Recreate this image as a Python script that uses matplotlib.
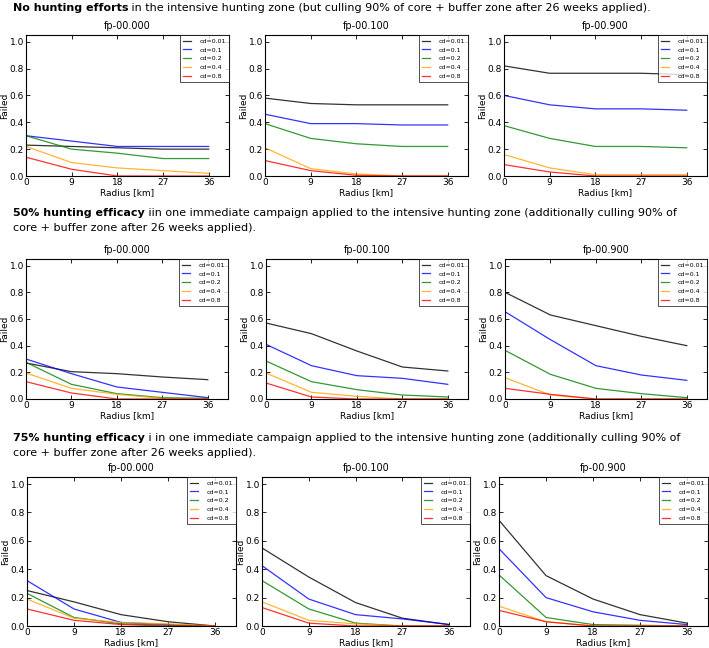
import numpy as np
import matplotlib
matplotlib.use("Agg")
import matplotlib.pyplot as plt

radius = [0, 9, 18, 27, 36]
cd_labels = ["cd=0.01", "cd=0.1", "cd=0.2", "cd=0.4", "cd=0.8"]
cd_colors = ["black", "blue", "green", "orange", "red"]
fp_titles = ["fp-00.000", "fp-00.100", "fp-00.900"]

# row 1: no hunting efforts
none_fp000 = [[0.23, 0.22, 0.21, 0.20, 0.20],
              [0.30, 0.26, 0.22, 0.22, 0.22],
              [0.30, 0.20, 0.17, 0.13, 0.13],
              [0.22, 0.10, 0.06, 0.04, 0.02],
              [0.14, 0.05, 0.00, 0.00, 0.00]]
none_fp100 = [[0.58, 0.54, 0.53, 0.53, 0.53],
              [0.46, 0.39, 0.39, 0.38, 0.38],
              [0.39, 0.28, 0.24, 0.22, 0.22],
              [0.21, 0.055, 0.015, 0.00, 0.00],
              [0.115, 0.04, 0.005, 0.00, 0.00]]
none_fp900 = [[0.82, 0.765, 0.765, 0.765, 0.755],
              [0.60, 0.53, 0.50, 0.50, 0.49],
              [0.375, 0.28, 0.22, 0.22, 0.21],
              [0.16, 0.06, 0.01, 0.01, 0.01],
              [0.085, 0.03, 0.00, 0.00, 0.00]]

# row 2: 50% hunting efficacy
half_fp000 = [[0.27, 0.205, 0.19, 0.165, 0.145],
              [0.30, 0.19, 0.09, 0.05, 0.01],
              [0.275, 0.11, 0.04, 0.01, 0.005],
              [0.195, 0.08, 0.035, 0.005, 0.00],
              [0.13, 0.045, 0.00, 0.00, 0.00]]
half_fp100 = [[0.57, 0.49, 0.36, 0.24, 0.21],
              [0.41, 0.25, 0.175, 0.155, 0.11],
              [0.285, 0.13, 0.07, 0.03, 0.015],
              [0.195, 0.05, 0.02, 0.00, 0.00],
              [0.12, 0.015, 0.00, 0.00, 0.00]]
half_fp900 = [[0.80, 0.63, 0.55, 0.47, 0.40],
              [0.655, 0.445, 0.25, 0.18, 0.14],
              [0.365, 0.185, 0.08, 0.04, 0.01],
              [0.16, 0.03, 0.00, 0.00, 0.00],
              [0.08, 0.035, 0.00, 0.00, 0.00]]

# row 3: 75% hunting efficacy
most_fp000 = [[0.25, 0.17, 0.08, 0.03, 0.00],
              [0.32, 0.12, 0.025, 0.01, 0.00],
              [0.23, 0.06, 0.015, 0.005, 0.00],
              [0.19, 0.055, 0.025, 0.015, 0.00],
              [0.12, 0.04, 0.01, 0.00, 0.00]]
most_fp100 = [[0.55, 0.345, 0.165, 0.055, 0.01],
              [0.425, 0.19, 0.08, 0.05, 0.01],
              [0.32, 0.12, 0.02, 0.00, 0.00],
              [0.17, 0.04, 0.015, 0.00, 0.00],
              [0.13, 0.02, 0.00, 0.00, 0.00]]
most_fp900 = [[0.745, 0.355, 0.19, 0.08, 0.02],
              [0.545, 0.20, 0.10, 0.04, 0.01],
              [0.36, 0.06, 0.01, 0.005, 0.00],
              [0.14, 0.03, 0.00, 0.00, 0.00],
              [0.11, 0.03, 0.00, 0.00, 0.00]]

rows = [[none_fp000, none_fp100, none_fp900],
        [half_fp000, half_fp100, half_fp900],
        [most_fp000, most_fp100, most_fp900]]

headers = [("No hunting efforts",
            " in the intensive hunting zone (but culling 90% of core + buffer zone after 26 weeks applied).", None),
           ("50% hunting efficacy",
            " iin one immediate campaign applied to the intensive hunting zone (additionally culling 90% of",
            "core + buffer zone after 26 weeks applied)."),
           ("75% hunting efficacy",
            " i in one immediate campaign applied to the intensive hunting zone (additionally culling 90% of",
            "core + buffer zone after 26 weeks applied).")]

plt.rcParams["xtick.direction"] = "in"
plt.rcParams["ytick.direction"] = "in"
plt.rcParams["xtick.top"] = True
plt.rcParams["ytick.right"] = True

W, H = 709, 648
fig = plt.figure(figsize=(W / 100, H / 100), dpi=100)

# axes boxes in pixels: (left, top, width, height) per row
row_boxes = [[(26, 35, 203, 141), (265, 35, 203, 141), (504, 35, 203, 141)],
             [(26, 259, 202, 140), (266, 259, 202, 140), (505, 259, 202, 140)],
             [(27, 477, 209, 149), (262, 477, 208, 149), (499, 477, 209, 149)]]
header_y = [(8, None), (213, 228), (438, 453)]
hsize = 8.0

renderer = fig.canvas.get_renderer()
for r in range(3):
    bold, rest, line2 = headers[r]
    y1, y2 = header_y[r]
    t = fig.text(13 / W, 1 - y1 / H, bold, fontsize=hsize, fontweight="bold", va="center")
    bb = t.get_window_extent(renderer)
    fig.text(bb.x1 / W, 1 - y1 / H, rest, fontsize=hsize, va="center")
    if line2:
        fig.text(13 / W, 1 - y2 / H, line2, fontsize=hsize, va="center")

    for c in range(3):
        l, tp, w, h = row_boxes[r][c]
        ax = fig.add_axes([l / W, 1 - (tp + h) / H, w / W, h / H])
        data = rows[r][c]
        for k in range(5):
            ax.plot(radius, data[k], color=cd_colors[k], lw=0.9, alpha=0.8, label=cd_labels[k])
        ax.set_xlim(0, 40)
        ax.set_ylim(0, 1.05)
        ax.set_xticks(radius)
        ax.set_yticks(np.arange(0, 1.01, 0.2))
        ax.tick_params(labelsize=6.5, length=3, width=0.6, pad=1.5)
        for s in ax.spines.values():
            s.set_linewidth(0.8)
        ax.set_title(fp_titles[c], fontsize=7, pad=4.5)
        ax.set_xlabel("Radius [km]", fontsize=6.5, labelpad=1)
        ax.set_ylabel("Failed", fontsize=6.5, labelpad=0)
        leg = ax.legend(loc="upper right", fontsize=4.5, fancybox=False,
                        borderaxespad=0.05, handlelength=1.3, handletextpad=1.3,
                        labelspacing=0.55, borderpad=0.5)
        leg.get_frame().set_edgecolor("black")
        leg.get_frame().set_linewidth(0.6)

fig.savefig("out.png", dpi=100)
